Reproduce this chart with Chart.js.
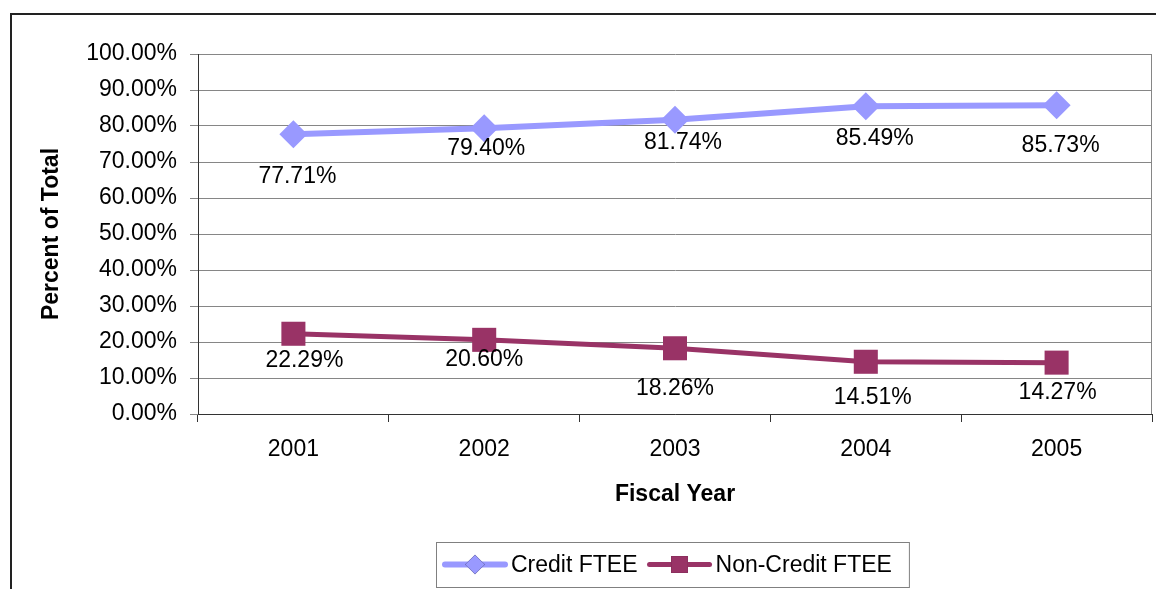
<!DOCTYPE html>
<html><head><meta charset="utf-8">
<script src="https://cdn.jsdelivr.net/npm/chart.js@4/dist/chart.umd.min.js"></script>
<style>html,body{margin:0;padding:0;background:#fff;overflow:hidden}#wrap{width:1156px;height:589px;position:relative}</style>
</head><body><div id="wrap"><canvas id="c" width="1156" height="589"></canvas></div>
<script>
const years = ['2001', '2002', '2003', '2004', '2005'];
const creditFTEE = [77.71, 79.40, 81.74, 85.49, 85.73];
const nonCreditFTEE = [22.29, 20.60, 18.26, 14.51, 14.27];
const seriesNames = ['Credit FTEE', 'Non-Credit FTEE'];
const yTickValues = [0, 10, 20, 30, 40, 50, 60, 70, 80, 90, 100];
const xTitle = 'Fiscal Year';
const yTitle = 'Percent of Total';

const FONT = '"Liberation Sans", Arial, sans-serif';
const GRID = '#868686';
const AXIS = '#333333';
// label placement relative to each point (pixels), [dx, dy]
const labelShift = [
  [[4, 42], [2, 20], [8, 23], [9, 32], [4, 40]],
  [[11, 27], [0, 20], [0, 40], [7, 36], [1, 30]]
];

const framePlugin = {
  id: 'frame',
  beforeDraw(chart) {
    const ctx = chart.ctx;
    ctx.save();
    ctx.fillStyle = '#fff';
    ctx.fillRect(0, 0, chart.width, chart.height);
    ctx.strokeStyle = '#222';
    ctx.lineWidth = 2;
    ctx.beginPath();
    ctx.moveTo(11, chart.height);
    ctx.lineTo(11, 14);
    ctx.lineTo(chart.width, 14);
    ctx.stroke();
    ctx.restore();
  },
  afterDraw(chart) {
    const ctx = chart.ctx, a = chart.chartArea;
    ctx.save();
    ctx.strokeStyle = GRID;
    ctx.lineWidth = 1;
    ctx.beginPath();
    ctx.moveTo(Math.round(a.right) - 0.5, a.top);
    ctx.lineTo(Math.round(a.right) - 0.5, a.bottom);
    ctx.stroke();
    ctx.restore();
  }
};

const labelPlugin = {
  id: 'valueLabels',
  afterDatasetsDraw(chart) {
    const ctx = chart.ctx;
    ctx.save();
    ctx.font = '23px ' + FONT;
    ctx.fillStyle = '#000';
    ctx.textAlign = 'center';
    ctx.textBaseline = 'middle';
    chart.data.datasets.forEach((ds, di) => {
      const meta = chart.getDatasetMeta(di);
      meta.data.forEach((pt, i) => {
        const s = labelShift[di][i];
        ctx.fillText(ds.data[i].toFixed(2) + '%', pt.x + s[0], pt.y + s[1]);
      });
    });
    ctx.restore();
  }
};

const legendPlugin = {
  id: 'customLegend',
  afterDraw(chart) {
    const ctx = chart.ctx;
    ctx.save();
    ctx.font = '23px ' + FONT;
    const lineLen = 60, gapText = 6, gapItem = 12, padX = 9;
    const items = chart.data.datasets.map(ds => ({ds, w: ctx.measureText(ds.label).width}));
    let total = padX * 2 + 8;
    items.forEach((it, i) => { total += lineLen + gapText + it.w + (i ? gapItem : 0); });
    const cx = 672.5;
    const boxL = Math.round(cx - total / 2), boxT = 542, boxH = 45;
    ctx.strokeStyle = '#808080';
    ctx.lineWidth = 1;
    ctx.strokeRect(boxL + 0.5, boxT + 0.5, total, boxH);
    let x = boxL + padX;
    const y = boxT + boxH / 2;
    items.forEach((it, i) => {
      if (i) x += gapItem;
      const ds = it.ds;
      ctx.strokeStyle = ds.borderColor;
      ctx.lineWidth = ds.borderWidth;
      ctx.lineCap = 'round';
      ctx.beginPath();
      ctx.moveTo(x, y);
      ctx.lineTo(x + lineLen, y);
      ctx.stroke();
      Chart.helpers.drawPoint(ctx, {pointStyle: ds.pointStyle, radius: ds.pointRadius * 0.7, borderWidth: 0}, x + lineLen / 2, y);
      ctx.fillStyle = ds.backgroundColor;
      ctx.fill();
      ctx.fillStyle = '#000';
      ctx.textAlign = 'left';
      ctx.textBaseline = 'middle';
      ctx.fillText(ds.label, x + lineLen + gapText, y + 1);
      x += lineLen + gapText + it.w;
    });
    ctx.restore();
  }
};

new Chart(document.getElementById('c'), {
  type: 'line',
  data: {
    labels: years,
    datasets: [
      {
        label: seriesNames[0], data: creditFTEE,
        borderColor: '#9999FF', backgroundColor: '#9999FF',
        borderWidth: 6, pointStyle: 'rectRot', pointRadius: 14, pointHoverRadius: 14,
        pointBorderWidth: 0, pointBackgroundColor: '#9999FF', tension: 0
      },
      {
        label: seriesNames[1], data: nonCreditFTEE,
        borderColor: '#993366', backgroundColor: '#993366',
        borderWidth: 5, pointStyle: 'rect', pointRadius: 17, pointHoverRadius: 17,
        pointBorderWidth: 0, pointBackgroundColor: '#993366', tension: 0
      }
    ]
  },
  options: {
    responsive: false,
    animation: false,
    events: [],
    layout: {autoPadding: false, padding: {left: 20, top: 54, right: 4, bottom: 65}},
    plugins: {legend: {display: false}, tooltip: {enabled: false}},
    scales: {
      x: {
        type: 'category', offset: true,
        afterFit(s) { s.height = 110; s.paddingLeft = 0; s.paddingRight = 0; },
        grid: {offset: true, drawOnChartArea: false, tickLength: 8, color: AXIS, lineWidth: 1},
        border: {color: AXIS, width: 1},
        ticks: {padding: 14, color: '#000', font: {family: FONT, size: 23}, maxRotation: 0},
        title: {display: true, text: xTitle, color: '#000', font: {family: FONT, size: 23, weight: 'bold'}, padding: {top: 0, bottom: 16}}
      },
      y: {
        min: 0, max: 100,
        afterFit(s) { s.width = 178; s.paddingTop = 0; s.paddingBottom = 0; },
        afterBuildTicks(s) { s.ticks = yTickValues.map(v => ({value: v})); },
        grid: {color: GRID, tickLength: 8, lineWidth: 1},
        border: {color: AXIS, width: 1},
        ticks: {padding: 13, color: '#000', font: {family: FONT, size: 23}, callback: v => v.toFixed(2) + '%'},
        title: {display: true, text: yTitle, color: '#000', font: {family: FONT, size: 23, weight: 'bold'}, padding: {top: 18, bottom: 0}}
      }
    }
  },
  plugins: [framePlugin, labelPlugin, legendPlugin]
});
</script>
</body></html>
